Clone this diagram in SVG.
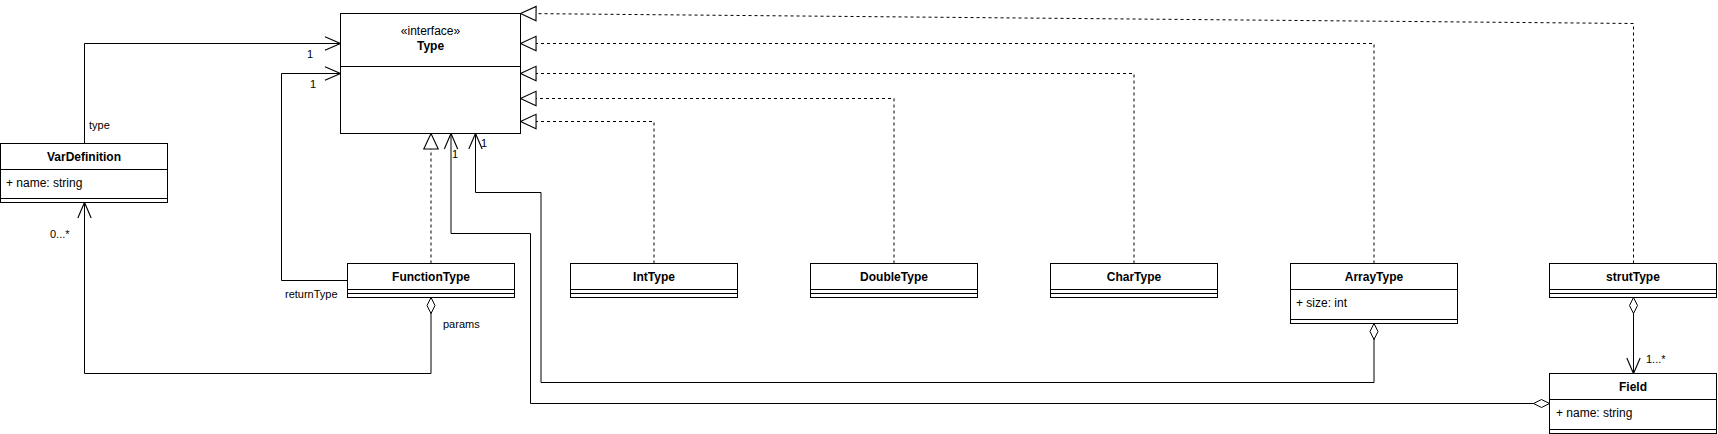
<svg xmlns="http://www.w3.org/2000/svg" width="1718" height="434" viewBox="0 0 1718 434">
<style>
.box{fill:#fff;stroke:#000;stroke-width:1}
.ln{fill:none;stroke:#000;stroke-width:1}
.t{font-family:"Liberation Sans",Arial,Helvetica,sans-serif;font-size:12px;fill:#000}
.b{font-weight:bold;text-anchor:middle}
.c{text-anchor:middle}
.lb{font-family:"Liberation Sans",Arial,Helvetica,sans-serif;font-size:11px;fill:#000}
.assoc{fill:none;stroke:#000;stroke-width:1;marker-end:url(#open)}
.agg{fill:none;stroke:#000;stroke-width:1;marker-start:url(#diamond);marker-end:url(#open)}
.real{fill:none;stroke:#000;stroke-width:1;stroke-dasharray:3 3;marker-end:url(#tri)}
</style>
<defs>
<marker id="open" markerUnits="userSpaceOnUse" markerWidth="20" markerHeight="20" viewBox="-16 -8 18 16" refX="0" refY="0" orient="auto" overflow="visible">
<path d="M-14,-6 L0,0 L-14,6" fill="none" stroke="#000" stroke-width="1"/>
</marker>
<marker id="tri" markerUnits="userSpaceOnUse" markerWidth="20" markerHeight="20" viewBox="-16 -8 18 16" refX="0" refY="0" orient="auto" overflow="visible">
<path d="M-14,-6.5 L0,0 L-14,6.5 Z" fill="#fff" stroke="#000" stroke-width="1"/>
</marker>
<marker id="diamond" markerUnits="userSpaceOnUse" markerWidth="20" markerHeight="20" viewBox="-2 -6 20 12" refX="0" refY="0" orient="auto" overflow="visible">
<path d="M0,0 L8,-4 L16,0 L8,4 Z" fill="#fff" stroke="#000" stroke-width="1"/>
</marker>
</defs>

<g id="connectors">
<path class="real" d="M1633.5 263.5 V23.5 L520.5 13.5"/>
<path class="real" d="M1374 263.5 V43.5 H520.5"/>
<path class="real" d="M1134 263.5 V73.5 H520.5"/>
<path class="real" d="M894 263.5 V98.5 H520.5"/>
<path class="real" d="M654 263.5 V121.5 H520.5"/>
<path class="real" d="M431 263.5 V133.5"/>
<path class="assoc" d="M84.5 143.5 V43.5 H340.5"/>
<path class="assoc" d="M347.5 280.5 H281.5 V73.5 H340.5"/>
<path class="agg" d="M431 297.5 V373.5 H84.5 V202.5"/>
<path class="agg" d="M1549.5 403.5 H530.5 V233.5 H451 V133.5"/>
<path class="agg" d="M1374 323.5 V382.5 H541 V192.5 H475.5 V133.5"/>
<path class="agg" d="M1633.5 297.5 V373.5"/>
<text class="lb" x="307" y="58">1</text>
<text class="lb" x="89" y="129">type</text>
<text class="lb" x="310" y="88">1</text>
<text class="lb" x="285" y="298">returnType</text>
<text class="lb" x="50" y="238">0...*</text>
<text class="lb" x="443" y="328">params</text>
<text class="lb" x="452" y="158">1</text>
<text class="lb" x="481" y="147">1</text>
<text class="lb" x="1646" y="363">1...*</text>
</g>

<g id="Type">
<rect class="box" x="340.5" y="13.5" width="180" height="120"/>
<line class="ln" x1="340.5" y1="66.5" x2="520.5" y2="66.5"/>
<text class="t c" x="430.5" y="35">«interface»</text>
<text class="t b" x="430.5" y="50">Type</text>
</g>

<g id="VarDefinition">
<rect class="box" x="0.5" y="143.5" width="167" height="59"/>
<line class="ln" x1="0.5" y1="169.5" x2="167.5" y2="169.5"/>
<line class="ln" x1="0.5" y1="198.5" x2="167.5" y2="198.5"/>
<text class="t b" x="84" y="161">VarDefinition</text>
<text class="t" x="6" y="187">+ name: string</text>
</g>

<g id="FunctionType">
<rect class="box" x="347.5" y="263.5" width="167" height="34"/>
<line class="ln" x1="347.5" y1="289.5" x2="514.5" y2="289.5"/>
<line class="ln" x1="347.5" y1="293.5" x2="514.5" y2="293.5"/>
<text class="t b" x="431" y="281">FunctionType</text>
</g>

<g id="IntType">
<rect class="box" x="570.5" y="263.5" width="167" height="34"/>
<line class="ln" x1="570.5" y1="289.5" x2="737.5" y2="289.5"/>
<line class="ln" x1="570.5" y1="293.5" x2="737.5" y2="293.5"/>
<text class="t b" x="654" y="281">IntType</text>
</g>

<g id="DoubleType">
<rect class="box" x="810.5" y="263.5" width="167" height="34"/>
<line class="ln" x1="810.5" y1="289.5" x2="977.5" y2="289.5"/>
<line class="ln" x1="810.5" y1="293.5" x2="977.5" y2="293.5"/>
<text class="t b" x="894" y="281">DoubleType</text>
</g>

<g id="CharType">
<rect class="box" x="1050.5" y="263.5" width="167" height="34"/>
<line class="ln" x1="1050.5" y1="289.5" x2="1217.5" y2="289.5"/>
<line class="ln" x1="1050.5" y1="293.5" x2="1217.5" y2="293.5"/>
<text class="t b" x="1134" y="281">CharType</text>
</g>

<g id="ArrayType">
<rect class="box" x="1290.5" y="263.5" width="167" height="60"/>
<line class="ln" x1="1290.5" y1="289.5" x2="1457.5" y2="289.5"/>
<line class="ln" x1="1290.5" y1="319.5" x2="1457.5" y2="319.5"/>
<text class="t b" x="1374" y="281">ArrayType</text>
<text class="t" x="1296" y="307">+ size: int</text>
</g>

<g id="strutType">
<rect class="box" x="1549.5" y="263.5" width="167" height="34"/>
<line class="ln" x1="1549.5" y1="289.5" x2="1716.5" y2="289.5"/>
<line class="ln" x1="1549.5" y1="293.5" x2="1716.5" y2="293.5"/>
<text class="t b" x="1633" y="281">strutType</text>
</g>

<g id="Field">
<rect class="box" x="1549.5" y="373.5" width="167" height="60"/>
<line class="ln" x1="1549.5" y1="399.5" x2="1716.5" y2="399.5"/>
<line class="ln" x1="1549.5" y1="429.5" x2="1716.5" y2="429.5"/>
<text class="t b" x="1633" y="391">Field</text>
<text class="t" x="1556" y="417">+ name: string</text>
</g>
</svg>
